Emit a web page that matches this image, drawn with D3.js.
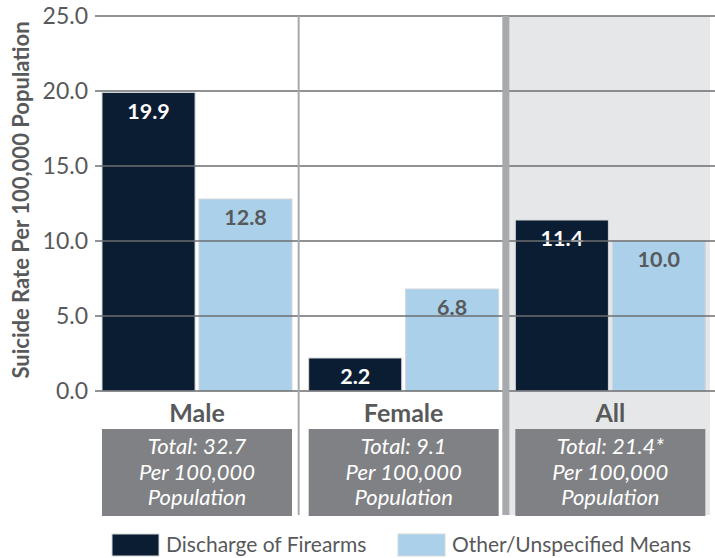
<!DOCTYPE html>
<html>
<head>
<meta charset="utf-8">
<script src="https://cdn.jsdelivr.net/npm/d3@7"></script>
<style>
  body { margin: 0; background: #fff; }
  text { font-family: Lato, "Open Sans", sans-serif; }
</style>
</head>
<body>
<div id="chart"></div>
<script>
const groups = ["Male", "Female", "All"];
const series = ["Discharge of Firearms", "Other/Unspecified Means"];
const firearms = [19.9, 2.2, 11.4];
const otherMeans = [12.8, 6.8, 10.0];
const totals = ["Total: 32.7", "Total: 9.1", "Total: 21.4*"];
const yTicks = [0, 5, 10, 15, 20, 25];
const colors = ["#0b1d33", "#abd0ea"];

const width = 715, height = 558;

const svg = d3.select("#chart")
  .append("svg")
  .attr("width", width)
  .attr("height", height);

const yScale = d3.scaleLinear()
  .domain([0, 25])
  .range([391, 16]);

const xGroup = d3.scaleBand()
  .domain(groups)
  .range([93, 713]);

const xInner = d3.scaleBand()
  .domain(series)
  .range([9, 199])
  .paddingInner(0.04);

const innerMid = xInner.range()[0] + (xInner.range()[1] - xInner.range()[0]) / 2;

// grey background behind "All"
const allX = xGroup("All");
svg.append("rect")
  .attr("x", allX)
  .attr("y", yScale(25))
  .attr("width", 710 - allX)
  .attr("height", 515 - yScale(25))
  .attr("fill", "#e6e7e9");

// bars
const rows = groups.map((g, i) => ({group: g, vals: [firearms[i], otherMeans[i]]}));

const gBars = svg.selectAll(".grp")
  .data(rows)
  .join("g")
  .attr("class", "grp")
  .attr("transform", d => `translate(${xGroup(d.group)},0)`);

gBars.selectAll("rect")
  .data(d => d.vals.map((v, j) => ({s: series[j], v: v, j: j})))
  .join("rect")
  .attr("x", d => xInner(d.s))
  .attr("y", d => yScale(d.v))
  .attr("width", xInner.bandwidth())
  .attr("height", d => yScale(0) - yScale(d.v))
  .attr("fill", d => colors[d.j])
  .attr("stroke", "#d4d7da")
  .attr("stroke-width", 1);

// gridlines over the bars
svg.selectAll(".grid")
  .data(yTicks)
  .join("line")
  .attr("class", "grid")
  .attr("x1", 95)
  .attr("x2", width)
  .attr("y1", d => yScale(d))
  .attr("y2", d => yScale(d))
  .attr("stroke", "#6d6e71")
  .attr("stroke-width", 1.5);

// tick labels
const yAxis = d3.axisLeft(yScale)
  .tickValues(yTicks)
  .tickFormat(d3.format(".1f"))
  .tickSize(0)
  .tickPadding(7);

svg.append("g")
  .attr("transform", "translate(95,0)")
  .call(yAxis)
  .call(g => g.select(".domain").remove())
  .call(g => g.selectAll("text")
    .attr("fill", "#58595b")
    .style("font-size", "23px")
    .style("font-family", "Lato, sans-serif"));

// value labels
gBars.selectAll(".val")
  .data(d => d.vals.map((v, j) => ({s: series[j], v: v, j: j})))
  .join("text")
  .attr("class", "val")
  .attr("x", d => xInner(d.s) + xInner.bandwidth() / 2)
  .attr("y", d => yScale(d.v) + 26)
  .attr("text-anchor", "middle")
  .attr("fill", d => d.j === 0 ? "#ffffff" : "#58595b")
  .style("font-size", "21.5px")
  .style("font-weight", "bold")
  .text(d => d3.format(".1f")(d.v));

// dividers
const femaleX = xGroup("Female");
svg.append("line")
  .attr("x1", femaleX - 1).attr("x2", femaleX - 1)
  .attr("y1", yScale(25)).attr("y2", 515)
  .attr("stroke", "#a7a9ac")
  .attr("stroke-width", 2);

svg.append("rect")
  .attr("x", allX - 4)
  .attr("y", yScale(25))
  .attr("width", 7)
  .attr("height", 515 - yScale(25))
  .attr("fill", "#a7a9ac");

// category labels and total boxes
gBars.append("text")
  .attr("x", innerMid)
  .attr("y", 422)
  .attr("text-anchor", "middle")
  .attr("fill", "#58595b")
  .style("font-size", "25px")
  .style("font-weight", "bold")
  .text(d => d.group);

gBars.append("rect")
  .attr("x", xInner.range()[0])
  .attr("y", 429)
  .attr("width", xInner.range()[1] - xInner.range()[0])
  .attr("height", 87)
  .attr("fill", "#808184");

gBars.each(function (d, i) {
  const lines = [totals[i], "Per 100,000", "Population"];
  d3.select(this).selectAll(".tot")
    .data(lines)
    .join("text")
    .attr("class", "tot")
    .attr("x", innerMid)
    .attr("y", (t, k) => 454 + k * 25.5)
    .attr("text-anchor", "middle")
    .attr("fill", "#ffffff")
    .style("font-size", "22px")
    .style("font-style", "italic")
    .text(t => t);
});

// y axis title
svg.append("text")
  .attr("transform", "translate(29,200) rotate(-90)")
  .attr("text-anchor", "middle")
  .attr("fill", "#58595b")
  .style("font-size", "22px")
  .style("font-weight", "bold")
  .text("Suicide Rate Per 100,000 Population");

// legend
const legendX = [112, 398];
const legend = svg.selectAll(".leg")
  .data(series)
  .join("g")
  .attr("class", "leg")
  .attr("transform", (d, i) => `translate(${legendX[i]},534)`);

legend.append("rect")
  .attr("width", 47)
  .attr("height", 22)
  .attr("fill", (d, i) => colors[i])
  .attr("stroke", "#d4d7da");

legend.append("text")
  .attr("x", 54)
  .attr("y", 18)
  .attr("fill", "#58595b")
  .style("font-size", "21px")
  .text(d => d);
</script>
</body>
</html>
